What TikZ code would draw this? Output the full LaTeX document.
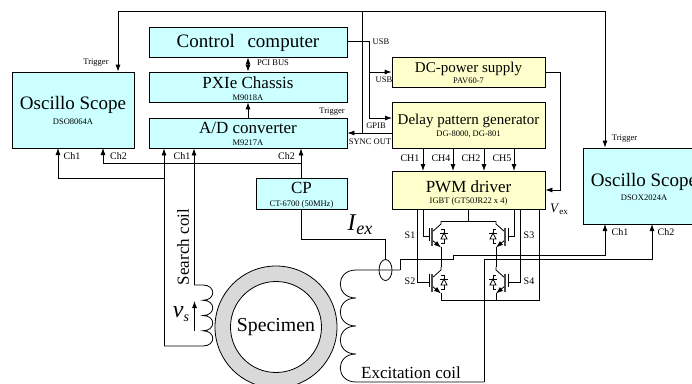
\documentclass[tikz,border=0pt]{standalone}
\usepackage{fontspec}
\setmainfont{Liberation Serif}
\usetikzlibrary{arrows.meta,shapes.geometric}
\newcommand{\fs}[1]{\fontsize{#1}{#1}\selectfont}
\newcommand{\twolines}[4]{\rule{0pt}{#3pt}#1\\[#4pt]{\fs{8.5}#2}}
\definecolor{boxcyan}{HTML}{CCFFFF}
\definecolor{boxyellow}{HTML}{FFFFCC}
\tikzset{
  box/.style={draw,inner sep=0pt,align=center},
  cybox/.style={box,fill=boxcyan},
  ylbox/.style={box,fill=boxyellow},
  small/.style={inner sep=0pt,font=\fs{8.5}},
  chan/.style={inner sep=0pt,font=\fs{10}},
  big/.style={inner sep=0pt,font=\fs{17}},
}
\begin{document}
\begin{tikzpicture}[x=1pt,y=-1pt,>={Latex[length=7pt,width=5pt]},line width=.8pt]
\clip(0,0)rectangle(692,383);
% boxes
\node[cybox,minimum width=198pt,minimum height=30pt,font=\fs{19}](ctrl)at(248,42){\rule{0pt}{16pt}Control\hspace{8pt} computer};
\node[cybox,minimum width=198pt,minimum height=30pt,font=\fs{17}](pxie)at(248,87){\twolines{PXIe Chassis}{M9018A}{14.6}{-5}};
\node[cybox,minimum width=198pt,minimum height=30pt,font=\fs{17}](adc)at(248,133){\twolines{A/D converter}{M9217A}{13}{-4.6}};
\node[cybox,minimum width=91pt,minimum height=31pt,font=\fs{17}](cp)at(301.5,193.5){\twolines{CP}{CT-6700 (50MHz)}{14}{-4}};
\node[cybox,minimum width=122pt,minimum height=76pt,font=\fs{19}](scopeL)at(73,110){\twolines{Oscillo Scope}{DSO8064A}{14.5}{-4.5}};
\node[cybox,minimum width=122pt,minimum height=76pt,font=\fs{19}](scopeR)at(644,186){\twolines{Oscillo Scope}{DSOX2024A}{15.5}{-5.5}};
\node[ylbox,minimum width=153pt,minimum height=30pt,font=\fs{15}](dc)at(468.5,72){\twolines{DC-power supply}{PAV60-7}{12}{-3.6}};
\node[ylbox,minimum width=153pt,minimum height=46pt,font=\fs{15}](delay)at(468.5,125){\twolines{Delay pattern generator}{DG-8000, DG-801}{11.7}{-3.3}};
\node[ylbox,minimum width=153pt,minimum height=38pt,font=\fs{17}](pwm)at(468.5,190){\twolines{PWM driver}{IGBT (GT50JR22 x 4)}{17}{-6}};
% specimen
\node[draw,circle,fill=black!15,minimum size=122pt,inner sep=0pt](ring)at(276,327){};
\node[draw,circle,fill=white,minimum size=91pt,inner sep=0pt,font=\fs{19.8}](spec)at(ring){Specimen};
% wiring points
\coordinate(trigL)at(118,11);
\coordinate(trigR)at(605,11);
\coordinate(trigM)at(362,11);
\coordinate(usb)at(369,41);
\coordinate(dlIn)at(392,118);
\coordinate(lnL)at(164,178);
\coordinate(lnS)at(194,285);
\coordinate(lnB)at(164,346);
\coordinate(cpT)at(301,163);
\coordinate(cpB)at(301,239);
\coordinate(dcR)at(560,72);
\coordinate(ex1)at(400,270);
\coordinate(ex2)at(453,259);
\coordinate(exB)at(484,382);
% trigger lines
\draw[->](trigM)--(trigL)--(trigL|-scopeL.north);
\draw[->](trigM)--(trigR)--(trigR|-scopeR.north);
\draw[->](trigM)--(trigM|-adc)--(adc.east);
\draw(delay.west|-adc)--(trigM|-adc);
% computer links
\draw[<->](ctrl)--(pxie);
\draw[->](adc)--(pxie);
\draw(ctrl.east|-usb)--(usb);
\draw[->](usb)--(usb|-dc)--(dc.west);
\draw[->](usb)--(usb|-dlIn)--(dlIn);
\foreach \cx in {423,453,484,514}
  \draw[->](\cx,148)--(\cx,171);
\draw[->](dc.east)--(dcR)--(dcR|-pwm)--(pwm.east);
% scope and adc inputs
\draw[->](lnB)--(lnL|-adc.south);
\draw[->](lnL)--(58,178)--(58,148);
\draw[->](cp.north-|cpT)--(cpT|-adc.south);
\draw[->](cpT)--(103,163)--(103,148);
\draw[->](lnS)--(lnS|-adc.south);
% search coil
\draw(lnS)--(203,285)foreach \y in {285,300.25,315.5,330.75}{..controls(216,\y)and(216,\y+15.25)..(203,\y+15.25)}--(lnB);
\draw[->](194.5,331)--(194.5,301);
% probe and excitation coil
\node[draw,ellipse,minimum width=13pt,minimum height=21pt,inner sep=0pt](probe)at(385.5,270){};
\draw(cp.south-|cpB)--(cpB)--(cpB-|probe)--(probe.north);
\draw(ex1)--(356,270)foreach \y in {270,298,326,354}{..controls(335,\y)and(335,\y+28)..(356,\y+28)}--(exB);
\draw[->](ex1)--(400,259)--(ex2)--(453,255)--(605,255)--(605,224);
\draw[->](exB)--(484,259)--(652,259)--(652,224);
% switches
\foreach \cx/\cy/\m in {441/0/1,441/46/1,496/0/-1,496/46/-1}{
  \begin{scope}[shift={(\cx,\cy)},xscale=\m]
    \draw(0,221)--(0,224)--(-9,232);
    \draw[-{Latex[length=7pt,width=5pt]}](-9,240)--(0,247.5);
    \draw(0,247)--(0,254);
    \draw(-12,228)--(-12,241);
    \draw[line width=1.2pt,black!70](-9,228)--(-9,246);
    \draw(0,229)--(3,229)--(3,243)--(0,243);
    \draw[fill=white](0,239)--(6,239)--(3,233)--cycle;
    \draw(-1,233)--(7,233);
  \end{scope}
}
\foreach \cx in {441,496}
  \draw(\cx,254)--(\cx,267);
\coordinate(busT)at(441,221);
\coordinate(busB)at(441,300);
\draw(busT)--(496,221);
\draw(busB)--(539,300)--(539,209);
\draw(468,209)--(468,221);
\draw(423,209)--(423,236)--(429,236);
\draw(417,209)--(417,282)--(429,282);
\draw(514,209)--(514,236)--(508,236);
\draw(520,209)--(520,282)--(508,282);
% labels
\node[small]at(96,63){Trigger};
\node[small]at(332,112){Trigger};
\node[small]at(624.5,139){Trigger};
\node[small]at(273,63){PCI BUS};
\node[small]at(381,42){USB};
\node[small]at(384,80){USB};
\node[small]at(376,126){GPIB};
\node[small]at(370,142){SYNC OUT};
\node[chan]at(72,156){Ch1};
\node[chan]at(118.5,156){Ch2};
\node[chan]at(182,156){Ch1};
\node[chan]at(286.5,156){Ch2};
\node[chan]at(620,232){Ch1};
\node[chan]at(666,232){Ch2};
\node[chan]at(410,158){CH1};
\node[chan]at(441,158){CH4};
\node[chan]at(471,158){CH2};
\node[chan]at(502,158){CH5};
\node[chan]at(410,235){S1};
\node[chan]at(410,281){S2};
\node[chan]at(529,235){S3};
\node[chan]at(529,281){S4};
\node[big]at(411,373){Excitation coil};
\node[big,rotate=90]at(183,247){Search coil};
\node[inner sep=0pt,font=\fs{24}]at(360,225){\textit{I}\raisebox{-4pt}{\fs{18}\textit{ex}}};
\node[inner sep=0pt,font=\fs{24}]at(181,314){\textit{v}\raisebox{-4pt}{\fs{14}\textit{s}}};
\node[inner sep=0pt,font=\fs{13}]at(559,209){\textit{V}\raisebox{-2pt}{\fs{9}ex}};
\end{tikzpicture}
\end{document}
